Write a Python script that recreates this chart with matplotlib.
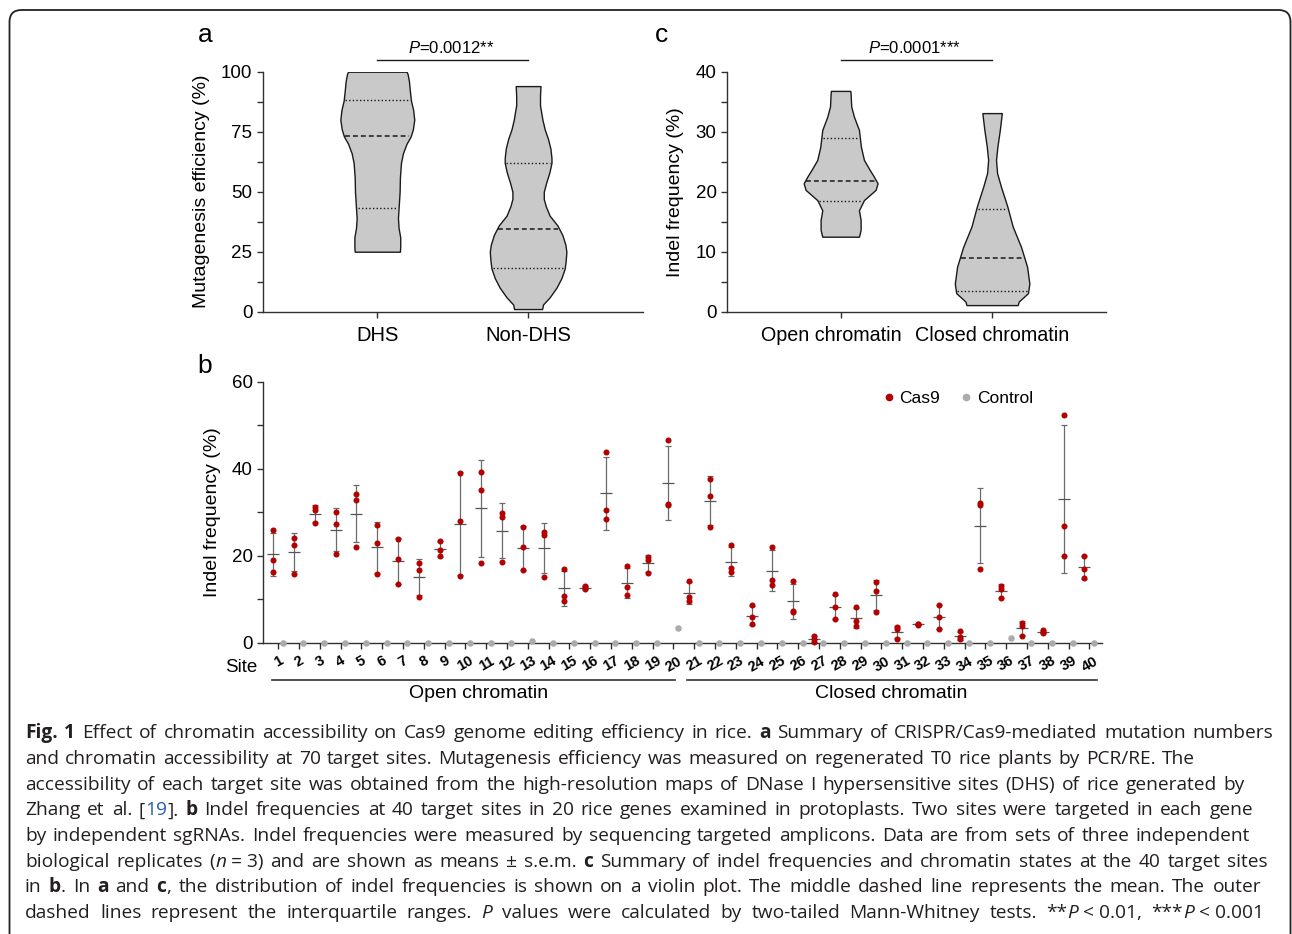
import re
import numpy as np
import matplotlib
matplotlib.use("Agg")
import matplotlib.pyplot as plt
from matplotlib.lines import Line2D
from matplotlib.patches import FancyBboxPatch
from matplotlib.transforms import IdentityTransform, ScaledTranslation
from matplotlib.ticker import MultipleLocator

plt.rcParams['font.family'] = ['Liberation Sans', 'DejaVu Sans']
plt.rcParams['mathtext.fontset'] = 'custom'
plt.rcParams['mathtext.it'] = 'Liberation Sans:italic'
plt.rcParams['mathtext.rm'] = 'Liberation Sans'

W, H = 1292, 934

# ---- panel a: violin outlines (value, half width) + summary lines
dhs_y = [25, 27, 31, 35, 39, 43, 50, 56, 62, 66, 70, 73, 76, 80, 84, 88, 92, 96, 99, 100]
dhs_w = [0.150, 0.152, 0.152, 0.141, 0.137, 0.141, 0.148, 0.150, 0.157, 0.170,
         0.194, 0.221, 0.236, 0.245, 0.238, 0.223, 0.216, 0.210, 0.201, 0.194]
nondhs_y = [1.1, 3, 6, 10, 14, 18, 21, 25, 28, 32, 36, 40, 44, 47, 50, 54, 58, 62, 64,
            68, 72, 76, 80, 86, 90, 94]
nondhs_w = [0.093, 0.099, 0.143, 0.188, 0.221, 0.243, 0.249, 0.254, 0.247, 0.227, 0.194,
            0.143, 0.117, 0.104, 0.104, 0.121, 0.141, 0.155, 0.155, 0.148, 0.132, 0.110,
            0.095, 0.079, 0.079, 0.082]
a_labels = ["DHS", "Non-DHS"]
a_mean = [73.3, 34.3]
a_q1 = [43.3, 18.2]
a_q3 = [88.2, 61.8]

# ---- panel c
open_y = [12.5, 13.6, 15.3, 16.9, 18.6, 20.3, 21.4, 22.5, 23.6, 25.3, 27.5, 30.3, 32.5,
          34.2, 36.3, 36.8]
open_w = [0.121, 0.132, 0.132, 0.121, 0.154, 0.231, 0.244, 0.220, 0.193, 0.154, 0.134,
          0.121, 0.088, 0.070, 0.066, 0.064]
closed_y = [1.1, 1.7, 3.1, 4.7, 7.5, 10.8, 14.2, 17.5, 20.8, 23.1, 25.3, 27.5, 30.3, 32.6, 33.1]
closed_w = [0.169, 0.176, 0.237, 0.246, 0.231, 0.191, 0.136, 0.101, 0.059, 0.033, 0.026,
            0.035, 0.051, 0.062, 0.064]
c_labels = ["Open chromatin", "Closed chromatin"]
c_mean = [21.8, 8.9]
c_q1 = [18.4, 3.5]
c_q3 = [28.9, 17.1]

# ---- panel b: three Cas9 replicates per site, control per site
sites = np.arange(1, 41)
cas9 = np.array([
    [25.8, 18.9, 16.2], [24.1, 22.5, 15.9], [31.1, 30.4, 27.5], [30.1, 27.4, 20.5],
    [34.2, 32.8, 22.1], [27.1, 22.9, 15.7], [23.8, 19.2, 13.4], [18.4, 16.6, 10.4],
    [23.4, 21.2, 19.9], [39.0, 27.9, 15.3], [39.3, 35.0, 18.3], [29.8, 29.0, 18.5],
    [26.7, 21.9, 16.6], [25.4, 24.8, 15.1], [17.0, 10.7, 9.7], [13.0, 12.7, 12.3],
    [43.9, 30.5, 28.5], [17.7, 12.7, 11.0], [19.7, 18.9, 16.1], [46.6, 31.9, 31.7],
    [14.2, 10.4, 9.5], [37.7, 33.8, 26.5], [22.5, 17.2, 16.3], [8.6, 5.8, 4.2],
    [22.0, 14.3, 13.3], [14.2, 7.4, 7.1], [1.5, 0.9, 0.2], [11.1, 8.1, 5.4],
    [8.3, 5.0, 3.8], [13.9, 12.0, 7.1], [3.5, 3.1, 0.8], [4.4, 4.2, 4.0],
    [8.6, 5.8, 3.2], [2.6, 1.3, 0.8], [32.2, 31.6, 16.9], [13.1, 12.4, 10.2],
    [4.5, 3.9, 1.5], [2.9, 2.5, 2.2], [52.4, 26.8, 19.9], [20.0, 17.0, 14.9],
])
control = [0, 0, 0, 0, 0, 0, 0, 0, 0, 0, 0, 0, 0.3, 0, 0, 0, 0, 0, 0, 3.3,
           0, 0, 0, 0, 0, 0, 0, 0, 0, 0, 0, 0, 0, 0, 0, 1.0, 0, 0, 0, 0]
b_groups = ["Open chromatin", "Closed chromatin"]

NB = "\u00a0"
caption_lines = [
    "{b:Fig.} {b:1} Effect of chromatin accessibility on Cas9 genome editing efficiency in rice. {b:a} Summary of CRISPR/Cas9-mediated mutation numbers",
    "and chromatin accessibility at 70 target sites. Mutagenesis efficiency was measured on regenerated T0 rice plants by PCR/RE. The",
    "accessibility of each target site was obtained from the high-resolution maps of DNase I hypersensitive sites (DHS) of rice generated by",
    "Zhang et al. [{l:19}]. {b:b} Indel frequencies at 40 target sites in 20 rice genes examined in protoplasts. Two sites were targeted in each gene",
    "by independent sgRNAs. Indel frequencies were measured by sequencing targeted amplicons. Data are from sets of three independent",
    "biological replicates ({i:n}" + NB + "=" + NB + "3) and are shown as means \u00b1 s.e.m. {b:c} Summary of indel frequencies and chromatin states at the 40 target sites",
    "in {b:b}. In {b:a} and {b:c}, the distribution of indel frequencies is shown on a violin plot. The middle dashed line represents the mean. The outer",
    "dashed lines represent the interquartile ranges. {i:P} values were calculated by two-tailed Mann-Whitney tests. **{i:P}" + NB + "<" + NB + "0.01, ***{i:P}" + NB + "<" + NB + "0.001",
]
caption_ends = [1273, 1195, 1245, 1253, 1250, 1268, 1261, 1264]

AX = '#303030'
FS = 13.5

fig = plt.figure(figsize=(W / 100, H / 100), dpi=100, facecolor='white')


def px_axes(left, top, right, bottom):
    return fig.add_axes([left / W, 1 - bottom / H, (right - left) / W, (bottom - top) / H])


def style_axes(ax):
    for s in ['top', 'right']:
        ax.spines[s].set_visible(False)
    for s in ['left', 'bottom']:
        ax.spines[s].set_color(AX)
        ax.spines[s].set_linewidth(1.0)
    ax.tick_params(which='both', colors=AX, width=1.0, labelsize=FS, labelcolor='black')
    ax.tick_params(which='major', length=4)
    ax.tick_params(which='minor', length=4)


def violin(ax, pos, ys, ws, mean, q1, q3):
    ys = np.array(ys)
    ws = np.array(ws)
    ax.fill_betweenx(ys, pos - ws, pos + ws, facecolor='#c9c9c9', edgecolor='#1a1a1a',
                     linewidth=1.0, zorder=2)
    for v, ls, lw in [(mean, (0, (3.2, 2.0)), 1.1), (q1, (0, (1, 1.6)), 1.0), (q3, (0, (1, 1.6)), 1.0)]:
        hw = np.interp(v, ys, ws) - 0.01
        ax.plot([pos - hw, pos + hw], [v, v], color='#1a1a1a', ls=ls, lw=lw, zorder=3)


def pbar(ax, y, ytxt, txt):
    ax.plot([0, 1], [y, y], color='#1a1a1a', lw=1.0, clip_on=False)
    ax.text(0.49, ytxt, txt, ha='center', va='bottom', fontsize=12)


# ---- panel a
ax_a = px_axes(262.7, 71.7, 642.7, 311.7)
style_axes(ax_a)
violin(ax_a, 0, dhs_y, dhs_w, a_mean[0], a_q1[0], a_q3[0])
violin(ax_a, 1, nondhs_y, nondhs_w, a_mean[1], a_q1[1], a_q3[1])
ax_a.set_xlim(-0.76, 1.76)
ax_a.set_ylim(0, 100)
ax_a.yaxis.set_major_locator(MultipleLocator(25))
ax_a.yaxis.set_minor_locator(MultipleLocator(12.5))
ax_a.set_xticks([0, 1])
ax_a.set_xticklabels(a_labels, fontsize=FS + 1)
ax_a.tick_params(axis='x', pad=6)
ax_a.set_ylabel("Mutagenesis efficiency (%)", fontsize=FS + 0.5, labelpad=8)
pbar(ax_a, 104.9, 106.5, r"$\it{P}$=0.0012**")

# ---- panel c
ax_c = px_axes(727.0, 71.7, 1105.7, 311.7)
style_axes(ax_c)
violin(ax_c, 0, open_y, open_w, c_mean[0], c_q1[0], c_q3[0])
violin(ax_c, 1, closed_y, closed_w, c_mean[1], c_q1[1], c_q3[1])
ax_c.set_xlim(-0.75, 1.75)
ax_c.set_ylim(0, 40)
ax_c.yaxis.set_major_locator(MultipleLocator(10))
ax_c.yaxis.set_minor_locator(MultipleLocator(5))
ax_c.set_xticks([0, 1])
ax_c.set_xticklabels(c_labels, fontsize=FS + 0.7)
ax_c.tick_params(axis='x', pad=6)
lab0 = ax_c.get_xticklabels()[0]
lab0.set_transform(lab0.get_transform() + ScaledTranslation(-0.09, 0, fig.dpi_scale_trans))
ax_c.set_ylabel("Indel frequency (%)", fontsize=FS + 0.5, labelpad=8)
pbar(ax_c, 41.95, 42.6, r"$\it{P}$=0.0001***")

# ---- panel b
ax_b = px_axes(263.3, 381.7, 1101.7, 642.7)
style_axes(ax_b)
mean = cas9.mean(axis=1)
sd = cas9.std(axis=1, ddof=1)
xr = sites - 0.24
xg = sites + 0.21
ax_b.errorbar(xr, mean, yerr=sd, fmt='none', ecolor='#6a6a6a', elinewidth=0.9,
              capsize=2.5, capthick=0.9, zorder=2)
ax_b.plot(xr, mean, ls='none', marker='_', ms=8, mew=0.9, color='#555555', zorder=2)
ax_b.scatter(np.repeat(xr, 3), cas9.ravel(), s=19, color='#b30000', linewidths=0,
             zorder=4, clip_on=False)
ax_b.scatter(xg, control, s=22, color='#ababab', linewidths=0, zorder=3, clip_on=False)
ax_b.set_xlim(0.28, 40.59)
ax_b.set_ylim(0, 60)
ax_b.yaxis.set_major_locator(MultipleLocator(20))
ax_b.yaxis.set_minor_locator(MultipleLocator(10))
ax_b.set_xticks(sites)
ax_b.set_xticklabels([str(s) for s in sites], rotation=30, fontsize=10.5, fontweight='bold')
ax_b.tick_params(axis='x', pad=4)
ax_b.set_ylabel("Indel frequency (%)", fontsize=FS + 0.5, labelpad=8)
handles = [Line2D([], [], ls='none', marker='o', ms=4.5, color='#b30000', label='Cas9'),
           Line2D([], [], ls='none', marker='o', ms=4.5, color='#ababab', label='Control')]
ax_b.legend(handles=handles, loc='center', bbox_to_anchor=(0.827, 0.9375), ncol=2,
            frameon=False, fontsize=12.5, handletextpad=0.1, columnspacing=1.0,
            handlelength=1.0, borderaxespad=0)

fig.text(241 / W, 1 - 668 / H, "Site", ha='center', va='center', fontsize=FS)
for (x0, x1, xc), name in zip([(271.7, 675.0, 479), (686.7, 1096.7, 891)], b_groups):
    fig.add_artist(Line2D([x0 / W, x1 / W], [1 - 679.5 / H] * 2, lw=1.2, color=AX))
    fig.text(xc / W, 1 - 694 / H, name, ha='center', va='center', fontsize=FS + 0.5)

# panel letters
for lab, x, y in [("a", 205, 35), ("c", 662, 35), ("b", 205, 366)]:
    fig.text(x / W, 1 - y / H, lab, ha='center', va='center', fontsize=19)

# rounded frame
frame = FancyBboxPatch((9.5, -40), 1281, H - 10 + 40, boxstyle="round,pad=0,rounding_size=12",
                       fill=False, edgecolor='#222222', linewidth=1.3,
                       transform=IdentityTransform())
fig.add_artist(frame)

# ---- caption, justified line by line
cap_font = ['Open Sans', 'DejaVu Sans']
cap_size = 13.8
styles = {'': {}, 'b': {'fontweight': 'bold'}, 'i': {'fontstyle': 'italic'},
          'l': {'color': '#2a5db0'}}
renderer = fig.canvas.get_renderer()
for k, (line, x_end) in enumerate(zip(caption_lines, caption_ends)):
    y = 738.3 + k * 25.7
    words = []
    for w in line.split(' '):
        arts = []
        for m in re.finditer(r'\{(\w):([^}]*)\}|([^{]+)', w):
            txt, st = (m.group(3), '') if m.group(3) else (m.group(2), m.group(1))
            kw = {'color': '#231f20'}
            kw.update(styles[st])
            arts.append(fig.text(0, 1 - y / H, txt, family=cap_font, fontsize=cap_size,
                                 va='baseline', ha='left', **kw))
        words.append(arts)
    widths = [[a.get_window_extent(renderer).width for a in arts] for arts in words]
    total = sum(sum(ws) for ws in widths)
    gap = (x_end - 25 - total) / (len(words) - 1)
    x = 25.0
    for arts, ws in zip(words, widths):
        for a, wd in zip(arts, ws):
            a.set_x(x / W)
            x += wd
        x += gap

fig.savefig("out.png", dpi=100, facecolor='white')
